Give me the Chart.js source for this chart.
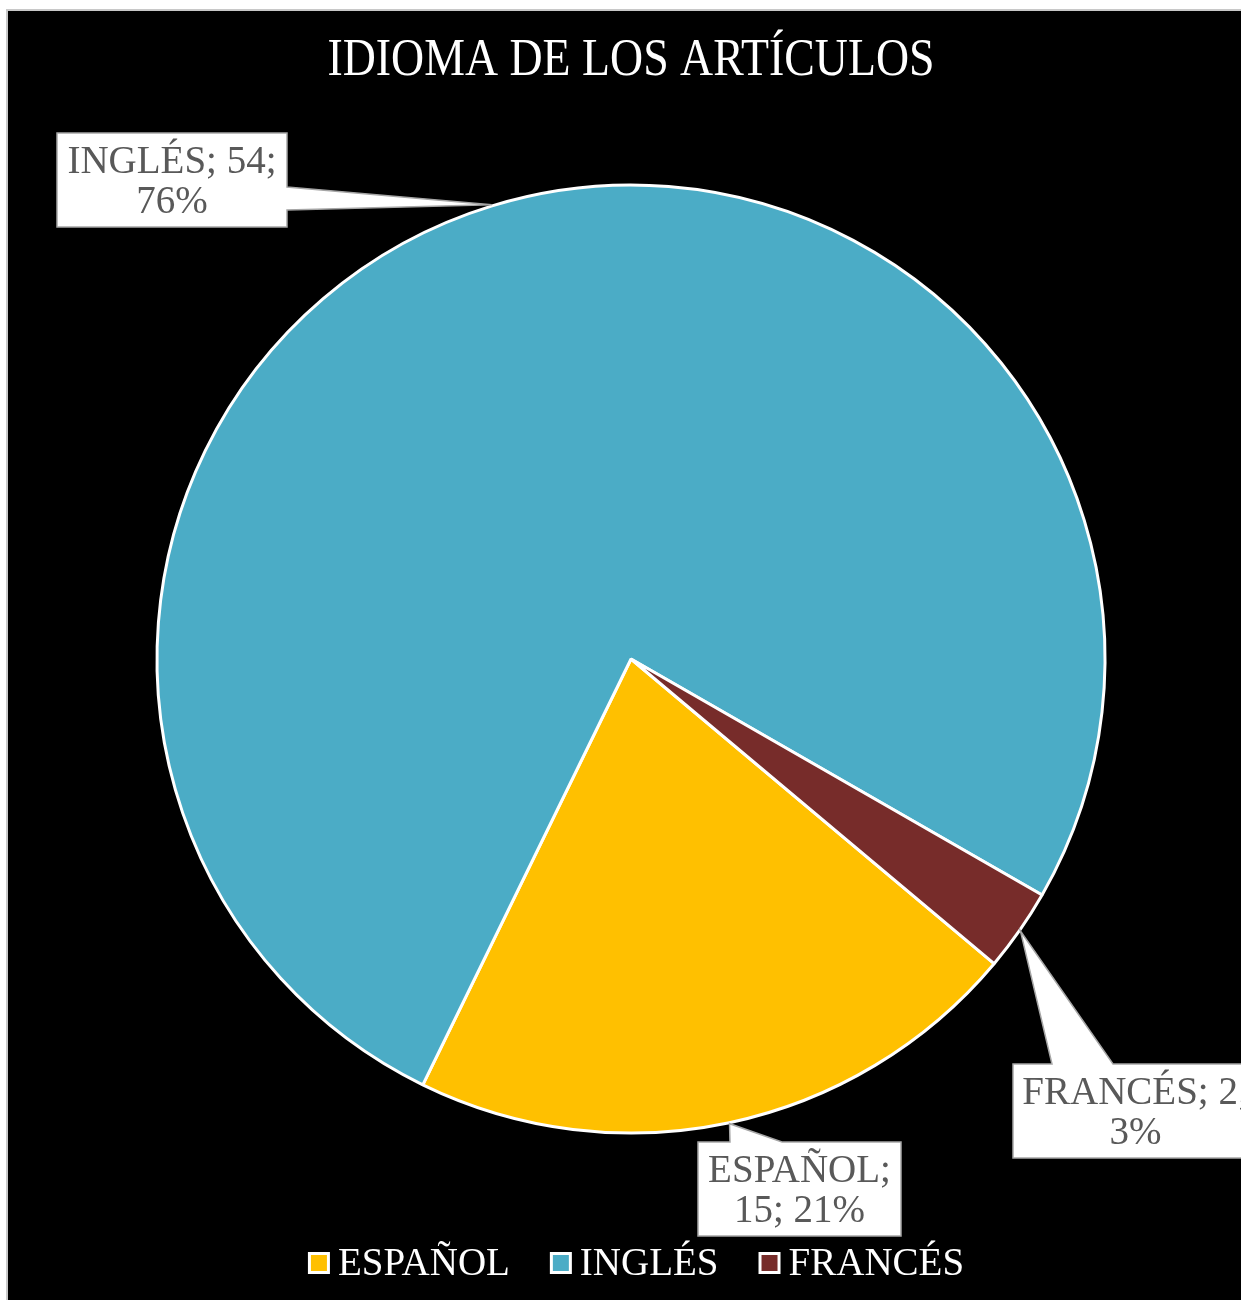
<!DOCTYPE html>
<html lang="es">
<head>
<meta charset="utf-8">
<title>Idioma de los artículos</title>
<script src="https://cdn.jsdelivr.net/npm/chart.js@4.4.1/dist/chart.umd.min.js"></script>
<style>
  html, body { margin: 0; padding: 0; background: #fff; overflow: hidden; }
  #grafico { display: block; }
</style>
</head>
<body>
<canvas id="grafico" width="1241" height="1300"></canvas>
<script>
// Datos del gráfico
const idiomas = ['ESPAÑOL', 'INGLÉS', 'FRANCÉS'];
const articulos = [15, 54, 2];
const colores = ['#FFC000', '#4BACC6', '#772C2A'];
const titulo = 'IDIOMA DE LOS ARTÍCULOS';

const FUENTE = '"Liberation Serif", "DejaVu Serif", serif';

// Cuadros de las etiquetas: posición, tamaño y lado donde sale el conector (a-b = base del conector)
const cuadros = [
    { x: 698, y: 1142, w: 203, h: 94, lado: 'arriba', a: 730, b: 782 },
    { x: 57, y: 133, w: 230, h: 94, lado: 'derecha', a: 187, b: 210 },
    { x: 1013, y: 1064, w: 245, h: 94, lado: 'arriba', a: 1052, b: 1113 }
];

// Fondo blanco con el recuadro negro del gráfico
const fondo = {
    id: 'fondo',
    beforeDraw(chart) {
        const ctx = chart.ctx;
        ctx.save();
        ctx.fillStyle = '#ffffff';
        ctx.fillRect(0, 0, chart.width, chart.height);
        ctx.fillStyle = '#c8c8c8';
        ctx.fillRect(6, 9, chart.width, chart.height);
        ctx.fillStyle = '#000000';
        ctx.fillRect(8, 11, chart.width, chart.height);
        ctx.restore();
    }
};

// Partir el texto en líneas según el ancho del cuadro
function partirLineas(ctx, texto, maxAncho) {
    const palabras = texto.split(' ');
    const lineas = [];
    let actual = '';
    palabras.forEach(function(p) {
        const prueba = actual ? actual + ' ' + p : p;
        if (actual && ctx.measureText(prueba).width > maxAncho) {
            lineas.push(actual);
            actual = p;
        } else {
            actual = prueba;
        }
    });
    if (actual) lineas.push(actual);
    return lineas;
}

// Etiquetas de datos con conector hacia cada sector
const etiquetas = {
    id: 'etiquetas',
    afterDatasetsDraw(chart) {
        const ctx = chart.ctx;
        const meta = chart.getDatasetMeta(0);
        const total = articulos.reduce((s, v) => s + v, 0);
        ctx.save();
        meta.data.forEach(function(arco, i) {
            const p = arco.getProps(['x', 'y', 'startAngle', 'endAngle', 'outerRadius'], true);
            const medio = (p.startAngle + p.endAngle) / 2;
            const px = p.x + Math.cos(medio) * (p.outerRadius + 1);
            const py = p.y + Math.sin(medio) * (p.outerRadius + 1);
            const c = cuadros[i];

            ctx.beginPath();
            if (c.lado === 'derecha') {
                ctx.moveTo(c.x, c.y);
                ctx.lineTo(c.x + c.w, c.y);
                ctx.lineTo(c.x + c.w, c.a);
                ctx.lineTo(px, py);
                ctx.lineTo(c.x + c.w, c.b);
                ctx.lineTo(c.x + c.w, c.y + c.h);
                ctx.lineTo(c.x, c.y + c.h);
            } else {
                ctx.moveTo(c.x, c.y);
                ctx.lineTo(c.a, c.y);
                ctx.lineTo(px, py);
                ctx.lineTo(c.b, c.y);
                ctx.lineTo(c.x + c.w, c.y);
                ctx.lineTo(c.x + c.w, c.y + c.h);
                ctx.lineTo(c.x, c.y + c.h);
            }
            ctx.closePath();
            ctx.fillStyle = '#ffffff';
            ctx.fill();
            ctx.strokeStyle = '#a6a6a6';
            ctx.lineWidth = 1.5;
            ctx.stroke();

            const pct = Math.round(articulos[i] / total * 100) + '%';
            const texto = idiomas[i] + '; ' + articulos[i] + '; ' + pct;
            ctx.font = '39px ' + FUENTE;
            ctx.fillStyle = '#595959';
            ctx.textAlign = 'center';
            ctx.textBaseline = 'alphabetic';
            const lineas = partirLineas(ctx, texto, c.w - 12);
            lineas.forEach(function(l, k) {
                ctx.fillText(l, c.x + c.w / 2, c.y + 40 + k * 40);
            });
        });
        ctx.restore();
    }
};

// Leyenda inferior
const leyenda = {
    id: 'leyenda',
    afterDraw(chart) {
        const ctx = chart.ctx;
        const lado = 22, hueco = 8, separacion = 40;
        ctx.save();
        ctx.font = '39px ' + FUENTE;
        const anchos = idiomas.map(t => lado + hueco + ctx.measureText(t).width);
        const total = anchos.reduce((s, v) => s + v, 0) + separacion * (idiomas.length - 1);
        let x = 636 - total / 2;
        idiomas.forEach(function(t, i) {
            ctx.fillStyle = '#ffffff';
            ctx.fillRect(x, 1252, lado, lado);
            ctx.fillStyle = colores[i];
            ctx.fillRect(x + 3, 1255, lado - 6, lado - 6);
            ctx.fillStyle = '#ffffff';
            ctx.textAlign = 'left';
            ctx.textBaseline = 'alphabetic';
            ctx.fillText(t, x + lado + hueco, 1275);
            x += anchos[i] + separacion;
        });
        ctx.restore();
    }
};

// Título del gráfico
const tituloGrafico = {
    id: 'tituloGrafico',
    afterDraw(chart) {
        const ctx = chart.ctx;
        ctx.save();
        ctx.font = '52px ' + FUENTE;
        const ancho = ctx.measureText(titulo).width;
        const escala = Math.min(1, 607 / ancho);
        ctx.translate(631, 75);
        ctx.scale(escala, 1);
        ctx.fillStyle = '#ffffff';
        ctx.textAlign = 'center';
        ctx.textBaseline = 'alphabetic';
        ctx.fillText(titulo, 0, 0);
        ctx.restore();
    }
};

new Chart(document.getElementById('grafico'), {
    type: 'pie',
    data: {
        labels: idiomas,
        datasets: [{
            data: articulos,
            backgroundColor: colores,
            borderColor: '#ffffff',
            borderWidth: 3
        }]
    },
    options: {
        responsive: false,
        devicePixelRatio: 1,
        animation: false,
        events: [],
        rotation: 130,
        radius: 474,
        layout: {
            padding: { left: 31, right: 10, top: 40, bottom: 22 }
        },
        plugins: {
            legend: { display: false },
            title: { display: false },
            tooltip: { enabled: false }
        }
    },
    plugins: [fondo, etiquetas, leyenda, tituloGrafico]
});
</script>
</body>
</html>
